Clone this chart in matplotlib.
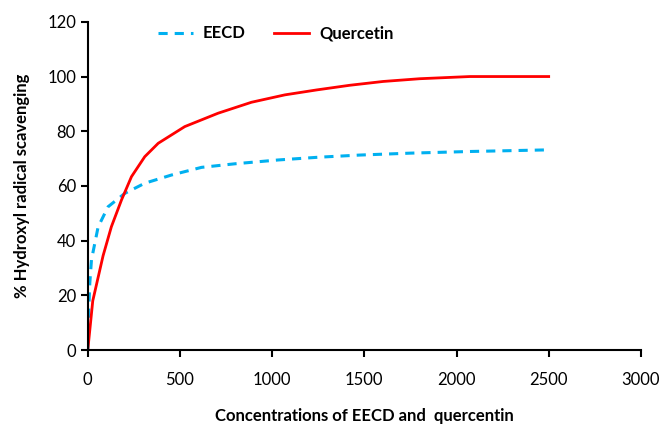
import matplotlib
matplotlib.use("Agg")
import matplotlib.pyplot as plt

plt.rcParams['font.family'] = ['Lato', 'DejaVu Sans']

# values
conc_eecd = [0, 3, 11, 20, 56, 110, 201, 309, 454, 617, 797, 1032, 1250, 1476, 1750, 2072, 2500]
eecd = [0, 10, 24.5, 33, 45, 52.4, 57.3, 61, 64, 66.8, 68.1, 69.5, 70.5, 71.3, 72, 72.6, 73.2]

conc_quer = [0, 27, 83, 128, 183, 237, 309, 382, 526, 707, 888, 1069, 1241, 1420, 1602, 1800, 2072, 2500]
quercetin = [0, 18, 34.5, 45.1, 54.9, 63.4, 70.7, 75.6, 81.7, 86.6, 90.6, 93.3, 95.1, 96.8, 98.2, 99.2, 100, 100]

fig = plt.figure(figsize=(6.6, 4.28), dpi=100)
ax = fig.add_axes([0.133, 0.182, 0.838, 0.767])

ax.plot(conc_eecd, eecd, color='#00B0F0', lw=2.2, linestyle=(0, (3, 2.3)), label='EECD')
ax.plot(conc_quer, quercetin, color='#FF0000', lw=2.0, label='Quercetin')

ax.set_xlim(0, 3000)
ax.set_ylim(0, 120)
ax.set_xticks(range(0, 3001, 500))
ax.set_yticks(range(0, 121, 20))

for s in ['top', 'right']:
    ax.spines[s].set_visible(False)
for s in ['left', 'bottom']:
    ax.spines[s].set_linewidth(1.5)
ax.tick_params(direction='out', length=5, width=1.5, labelsize=12, colors='black')
ax.tick_params(axis='x', pad=11)

ax.set_xlabel('Concentrations of EECD and  quercentin', fontsize=12, fontweight='bold', labelpad=14)
ax.set_ylabel('% Hydroxyl radical scavenging', fontsize=12, fontweight='bold', labelpad=12)

leg = ax.legend(loc='upper left', bbox_to_anchor=(0.1, 1.035), ncol=2, frameon=False,
                prop={'weight': 'bold', 'size': 12}, handlelength=2.1, handletextpad=0.6,
                columnspacing=1.7)

fig.savefig('out.png', dpi=100)
